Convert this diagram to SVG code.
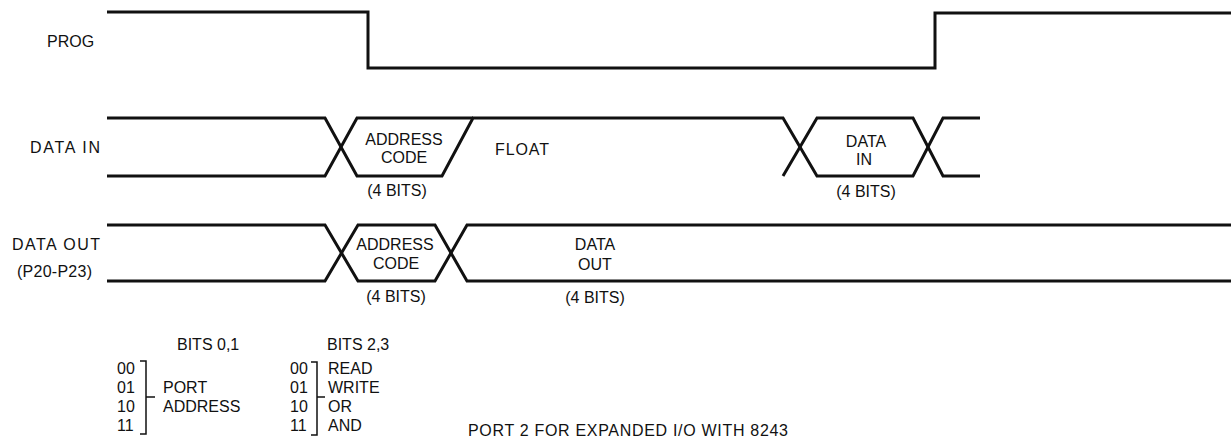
<svg xmlns="http://www.w3.org/2000/svg" width="1231" height="439" viewBox="0 0 1231 439">
<style>
  text { font-family: "Liberation Sans", Arial, sans-serif; font-size: 16px; fill: #111; }
  .c { text-anchor: middle; }
  .sig { fill: none; stroke: #111; stroke-width: 3; stroke-linejoin: miter; stroke-linecap: butt; }
  .br { fill: none; stroke: #111; stroke-width: 1.5; }
</style>
<rect width="1231" height="439" fill="#fff"/>

<g id="labels">
  <text x="47" y="47">PROG</text>
  <text x="30" y="153" textLength="70">DATA IN</text>
  <text x="12" y="250" textLength="88">DATA OUT</text>
  <text x="17" y="277" textLength="75">(P20-P23)</text>
</g>

<g id="connectors">
  <!-- PROG -->
  <path class="sig" d="M107,12 H368 V68 H935 V13 H1231"/>
  <!-- DATA IN -->
  <path class="sig" d="M107,118 H325 L357,176 H442 L473,118 H783 L817,176 H913 L943,118 H980"/>
  <path class="sig" d="M107,176 H325 L357,118 H473"/>
  <path class="sig" d="M783,176 L817,118 H913 L943,176 H980"/>
  <!-- DATA OUT -->
  <path class="sig" d="M107,225 H325 L358,281 H435 L467,225 H1231"/>
  <path class="sig" d="M107,281 H325 L358,225 H435 L467,281 H1231"/>
</g>

<g id="data-in-address">
  <text class="c" x="404" y="145">ADDRESS</text>
  <text class="c" x="404" y="163">CODE</text>
  <text class="c" x="397" y="196">(4 BITS)</text>
</g>
<g id="float">
  <text x="495" y="155" textLength="54">FLOAT</text>
</g>
<g id="data-in-data">
  <text class="c" x="866" y="147">DATA</text>
  <text class="c" x="864" y="165">IN</text>
  <text class="c" x="866" y="197">(4 BITS)</text>
</g>
<g id="data-out-address">
  <text class="c" x="395" y="250">ADDRESS</text>
  <text class="c" x="396" y="269">CODE</text>
  <text class="c" x="396" y="302">(4 BITS)</text>
</g>
<g id="data-out-data">
  <text class="c" x="595" y="250">DATA</text>
  <text class="c" x="595" y="270">OUT</text>
  <text class="c" x="595" y="303">(4 BITS)</text>
</g>

<g id="bits01">
  <text x="177" y="350">BITS 0,1</text>
  <text x="117" y="374">00</text>
  <text x="117" y="393">01</text>
  <text x="117" y="412">10</text>
  <text x="117" y="431">11</text>
  <path class="br" d="M140,361 H146 V434 H140 M146,397 H155"/>
  <text x="163" y="393">PORT</text>
  <text x="163" y="412">ADDRESS</text>
</g>

<g id="bits23">
  <text x="327" y="350">BITS 2,3</text>
  <text x="290" y="374">00</text>
  <text x="290" y="393">01</text>
  <text x="290" y="412">10</text>
  <text x="290" y="431">11</text>
  <path class="br" d="M311,362 H317 V435 H311 M317,397 H325"/>
  <text x="328" y="374">READ</text>
  <text x="328" y="393">WRITE</text>
  <text x="328" y="412">OR</text>
  <text x="328" y="431">AND</text>
</g>

<g id="caption">
  <text x="468" y="436" textLength="320">PORT 2 FOR EXPANDED I/O WITH 8243</text>
</g>
</svg>
